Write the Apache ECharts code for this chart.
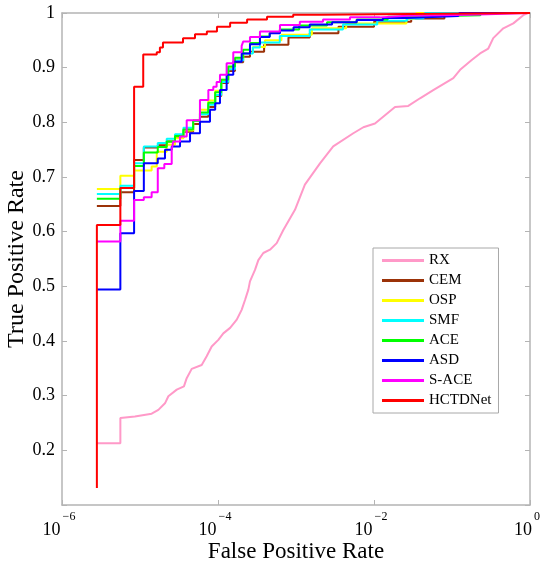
<!DOCTYPE html>
<html>
<head>
<meta charset="utf-8">
<script src="https://cdn.jsdelivr.net/npm/echarts@6/dist/echarts.min.js"></script>
<style>
  html, body { margin: 0; padding: 0; background: #fff; }
  #chart { width: 550px; height: 573px; }
</style>
</head>
<body>
<div id="chart"></div>
<script>
// legend order and colours
var methods = ['RX', 'CEM', 'OSP', 'SMF', 'ACE', 'ASD', 'S-ACE', 'HCTDNet'];
var colors = ['#ff99c8', '#9b3208', '#ffff00', '#00ffff', '#00ff00', '#0000ff', '#ff00ff', '#ff0000'];

// x tick labels (powers of ten) and y ticks
var xTickExps = [-6, -4, -2, 0];
var yTicks = [0.2, 0.3, 0.4, 0.5, 0.6, 0.7, 0.8, 0.9, 1];

// [false positive rate, true positive rate]
var rx = [[2.8e-6,0.213],[5.6e-6,0.213],[5.6e-6,0.259],[8.6e-6,0.262],[1.41e-5,0.267],[1.72e-5,0.274],
  [2.09e-5,0.286],[2.31e-5,0.299],[2.96e-5,0.311],[3.66e-5,0.317],[3.97e-5,0.332],[4.6e-5,0.349],
  [6.18e-5,0.356],[7.16e-5,0.372],[8.3e-5,0.39],[1.01e-4,0.402],[1.17e-4,0.414],[1.43e-4,0.424],
  [1.74e-4,0.439],[2.01e-4,0.457],[2.22e-4,0.475],[2.45e-4,0.494],[2.57e-4,0.509],[2.98e-4,0.53],
  [3.29e-4,0.548],[3.81e-4,0.561],[4.64e-4,0.567],[5.66e-4,0.579],[6.88e-4,0.603],[9.7e-4,0.64],
  [1.3e-3,0.686],[2.03e-3,0.725],[3.0e-3,0.756],[5.43e-3,0.78],[7.3e-3,0.791],[1.03e-2,0.798],
  [1.86e-2,0.828],[2.75e-2,0.83],[3.89e-2,0.844],[5.75e-2,0.859],[0.104,0.881],[0.127,0.896],
  [0.179,0.914],[0.229,0.926],[0.292,0.935],[0.338,0.954],[0.455,0.972],[0.611,0.981],
  [0.82,0.996],[0.94,1],[1,1]];

var cem = [[2.8e-6,0.647],[5.6e-6,0.672],[8.4e-6,0.731],[1.12e-5,0.754],[1.69e-5,0.758],[2.2e-5,0.765],
  [2.81e-5,0.772],[3.6e-5,0.783],[4.8e-5,0.797],[5.87e-5,0.81],[7.5e-5,0.828],[9.2e-5,0.848],
  [1.1e-4,0.872],[1.35e-4,0.894],[1.65e-4,0.91],[2.1e-4,0.92],[2.57e-4,0.929],[3.9e-4,0.942],
  [8.0e-4,0.955],[1.5e-3,0.963],[3.5e-3,0.975],[1.0e-2,0.984],[3.0e-2,0.99],[0.08,0.995],[0.1,1],[1,1]];

var osp = [[2.8e-6,0.678],[5.6e-6,0.7025],[8.4e-6,0.712],[1.41e-5,0.719],[1.64e-5,0.746],[2.2e-5,0.759],
  [2.81e-5,0.771],[3.6e-5,0.785],[4.8e-5,0.804],[5.87e-5,0.823],[7.5e-5,0.84],[9.2e-5,0.858],
  [1.1e-4,0.878],[1.35e-4,0.9],[1.65e-4,0.915],[2.1e-4,0.927],[2.8e-4,0.938],[4.0e-4,0.95],
  [6.5e-4,0.96],[1.6e-3,0.972],[4.4e-3,0.981],[2.6e-2,0.989],[3.3e-2,0.992],[0.035,1],[1,1]];

var smf = [[2.8e-6,0.669],[5.6e-6,0.684],[8.4e-6,0.725],[1.12e-5,0.756],[1.69e-5,0.762],[2.2e-5,0.77],
  [2.81e-5,0.778],[3.6e-5,0.79],[4.8e-5,0.803],[5.87e-5,0.815],[7.5e-5,0.832],[9.2e-5,0.85],
  [1.1e-4,0.874],[1.35e-4,0.897],[1.65e-4,0.913],[2.1e-4,0.926],[2.8e-4,0.937],[3.45e-4,0.946],
  [6.2e-4,0.958],[1.5e-3,0.97],[4.0e-3,0.979],[1.1e-2,0.986],[2.65e-2,0.99],[0.043,0.993],[0.045,1],[1,1]];

var ace = [[2.8e-6,0.66],[5.6e-6,0.68],[8.4e-6,0.72],[1.12e-5,0.745],[1.69e-5,0.755],[2.2e-5,0.765],
  [2.81e-5,0.775],[3.6e-5,0.787],[4.8e-5,0.803],[5.87e-5,0.818],[7.5e-5,0.836],[9.2e-5,0.855],
  [1.1e-4,0.878],[1.35e-4,0.902],[1.65e-4,0.918],[2.1e-4,0.933],[2.57e-4,0.945],[3.45e-4,0.957],
  [4.6e-4,0.964],[6.2e-4,0.97],[1.1e-3,0.977],[2.5e-3,0.983],[6.0e-3,0.988],[1.5e-2,0.993],
  [3.0e-2,0.996],[0.23,0.998],[0.24,1],[1,1]];

var asd = [[2.8e-6,0.494],[5.6e-6,0.597],[8.4e-6,0.6746],[1.12e-5,0.725],[1.69e-5,0.734],[2.09e-5,0.75],
  [2.55e-5,0.756],[3.26e-5,0.765],[4.38e-5,0.78],[5.87e-5,0.801],[7.89e-5,0.823],[9.2e-5,0.835],
  [1.06e-4,0.859],[1.29e-4,0.887],[1.57e-4,0.911],[2.01e-4,0.926],[2.57e-4,0.943],[3.45e-4,0.956],
  [4.6e-4,0.963],[6.23e-4,0.968],[9.3e-4,0.974],[1.5e-3,0.979],[2.9e-3,0.983],[6.0e-3,0.987],
  [1.3e-2,0.991],[2.65e-2,0.9945],[0.12,0.998],[0.125,1],[1,1]];

var sace = [[2.8e-6,0.582],[5.6e-6,0.62],[8.4e-6,0.658],[1.12e-5,0.663],[1.41e-5,0.672],[1.69e-5,0.716],
  [2.05e-5,0.724],[2.55e-5,0.75],[2.67e-5,0.765],[3.26e-5,0.774],[3.97e-5,0.804],[5.87e-5,0.841],
  [7.52e-5,0.859],[8.7e-5,0.865],[9.6e-5,0.874],[1.06e-4,0.887],[1.29e-4,0.908],[1.57e-4,0.928],
  [2.01e-4,0.94],[2.11e-4,0.948],[2.57e-4,0.956],[3.45e-4,0.966],[6.23e-4,0.978],[1.12e-3,0.984],
  [2.22e-3,0.988],[4.92e-3,0.992],[1.19e-2,0.995],[2.65e-2,0.996],[7.0e-2,0.997],[0.17,0.999],[0.18,1],[1,1]];

var hctdnet = [[2.8e-6,0.131],[2.8e-6,0.612],[5.6e-6,0.68],[8.4e-6,0.865],[1.1e-5,0.924],[1.64e-5,0.928],
  [1.8e-5,0.937],[1.97e-5,0.946],[3.56e-5,0.954],[5.07e-5,0.961],[7.2e-5,0.966],[9.7e-5,0.975],
  [1.43e-4,0.982],[2.36e-4,0.988],[4.25e-4,0.993],[9.2e-4,0.997],[2.03e-3,1],[1,1]];

var curves = [rx, cem, osp, smf, ace, asd, sace, hctdnet];

var serif = '"Times New Roman", "Liberation Serif", Times, serif';
var frame = '#b4b4b4';

var chart = echarts.init(document.getElementById('chart'), null, { renderer: 'canvas' });

function supLabel(v) {
  var e = Math.round(Math.log10(v));
  if (xTickExps.indexOf(e) < 0) return '';
  return '{b|10}{s|' + (e < 0 ? '\u2212' + (-e) : e) + '}';
}

var series = methods.map(function(name, i) {
  return {
    name: name,
    type: 'line',
    data: curves[i],
    step: i === 0 ? false : 'end',
    showSymbol: false,
    symbol: 'none',
    lineStyle: { color: colors[i], width: 2 },
    itemStyle: { color: colors[i] },
    animation: false
  };
});

chart.setOption({
  animation: false,
  textStyle: { fontFamily: serif },
  grid: { left: 62, right: 20, top: 13, bottom: 68, containLabel: false, outerBoundsMode: 'none' },
  legend: {
    orient: 'vertical',
    left: 373,
    top: 248,
    padding: [5, 7, 5, 9],
    itemGap: 5,
    itemWidth: 42,
    itemHeight: 3,
    icon: 'rect',
    backgroundColor: '#fff',
    borderColor: '#a8a8a8',
    borderWidth: 1,
    borderRadius: 0,
    textStyle: { fontFamily: serif, fontSize: 15, color: '#000', lineHeight: 15, padding: [0, 0, 0, 0] },
    data: methods
  },
  xAxis: [{
    type: 'log',
    logBase: 10,
    min: 1e-6,
    max: 1,
    interval: 2,
    splitNumber: 3,
    name: 'False Positive Rate',
    nameLocation: 'middle',
    nameGap: 35,
    nameMoveOverlap: false,
    nameTextStyle: { fontFamily: serif, fontSize: 23, color: '#000' },
    axisLine: { lineStyle: { color: frame, width: 1.5 } },
    axisTick: { inside: true, length: 5, lineStyle: { color: frame } },
    minorTick: { show: false },
    splitLine: { show: false },
    axisLabel: {
      margin: 6,
      padding: [0, 6, 0, 0],
      formatter: supLabel,
      rich: {
        b: { fontFamily: serif, fontSize: 18, color: '#000', verticalAlign: 'bottom', lineHeight: 28 },
        s: { fontFamily: serif, fontSize: 12, color: '#000', verticalAlign: 'top', lineHeight: 28, padding: [0, 0, 0, 2] }
      }
    }
  }, {
    type: 'log',
    logBase: 10,
    min: 1e-6,
    max: 1,
    interval: 2,
    splitNumber: 3,
    position: 'top',
    axisLine: { lineStyle: { color: frame, width: 1.5 } },
    axisTick: { inside: true, length: 5, lineStyle: { color: frame } },
    axisLabel: { show: false },
    splitLine: { show: false }
  }],
  yAxis: [{
    type: 'value',
    min: 0.1,
    max: 1,
    interval: 0.1,
    name: 'True Positive Rate',
    nameLocation: 'middle',
    nameGap: 33,
    nameMoveOverlap: false,
    nameTextStyle: { fontFamily: serif, fontSize: 24, color: '#000' },
    axisLine: { show: true, lineStyle: { color: frame, width: 1.5 } },
    axisTick: { show: true, inside: true, length: 5, lineStyle: { color: frame } },
    splitLine: { show: false },
    axisLabel: {
      margin: 7,
      fontFamily: serif,
      fontSize: 18,
      color: '#000',
      formatter: function(v) {
        var r = Math.round(v * 10) / 10;
        return yTicks.indexOf(r) < 0 ? '' : String(r);
      }
    }
  }, {
    type: 'value',
    min: 0.1,
    max: 1,
    interval: 0.1,
    position: 'right',
    axisLine: { show: true, lineStyle: { color: frame, width: 1.5 } },
    axisTick: { show: true, inside: true, length: 5, lineStyle: { color: frame } },
    axisLabel: { show: false },
    splitLine: { show: false }
  }],
  series: series
});
window.addEventListener('resize', function() { chart.resize(); });
</script>
</body>
</html>
